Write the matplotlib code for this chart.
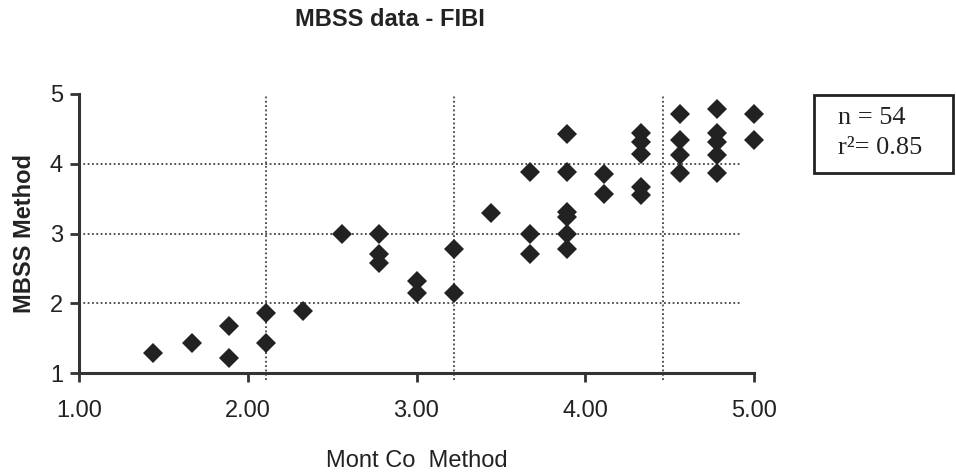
import numpy as np
import matplotlib
matplotlib.use('Agg')
import matplotlib.pyplot as plt

# Dados (Mont Co x MBSS, FIBI)
mont_co = [1.44, 1.67, 1.89, 1.89, 2.11, 2.11, 2.33, 2.56,
           2.78, 2.78, 2.78, 3.00, 3.00, 3.22, 3.22, 3.44,
           3.67, 3.67, 3.67,
           3.89, 3.89, 3.89, 3.89, 3.89, 3.89,
           4.11, 4.11,
           4.33, 4.33, 4.33, 4.33, 4.33,
           4.56, 4.56, 4.56, 4.56,
           4.78, 4.78, 4.78, 4.78, 4.78,
           5.00, 5.00]
mbss = [1.29, 1.43, 1.67, 1.21, 1.86, 1.43, 1.89, 3.00,
        3.00, 2.71, 2.57, 2.32, 2.14, 2.78, 2.14, 3.29,
        3.88, 3.00, 2.71,
        4.43, 3.88, 3.31, 3.24, 3.00, 2.78,
        3.86, 3.57,
        4.44, 4.31, 4.14, 3.67, 3.55,
        4.71, 4.34, 4.13, 3.87,
        4.78, 4.44, 4.31, 4.13, 3.87,
        4.71, 4.34]

xticks = [1.0, 2.0, 3.0, 4.0, 5.0]
yticks = [1, 2, 3, 4, 5]
grid_y = [2, 3, 4]
grid_x = [2.11, 3.22, 4.46]

n_amostras = 54
r2 = 0.85

plt.rcParams['font.family'] = ['Liberation Sans', 'DejaVu Sans']

fig = plt.figure(figsize=(9.56, 4.74), dpi=100)
ax = fig.add_axes([79 / 956, 101 / 474, 675 / 956, 279 / 474])

cor_grade = '#444444'
pont = (0, (1, 1.4))

# Grade pontilhada
for y in grid_y:
    ax.axhline(y, xmin=0, xmax=0.979, color=cor_grade, lw=1.3,
               linestyle=pont, zorder=1)
ax.vlines(grid_x, 0.9, 5, colors=cor_grade, lw=1.3, linestyles=pont,
          clip_on=False, zorder=1)

ax.plot(mont_co, mbss, 'D', color='#222222', markersize=10,
        markeredgewidth=0, zorder=3, clip_on=False)

ax.set_xlim(1, 5)
ax.set_ylim(1, 5)
ax.set_xticks(xticks)
ax.set_xticklabels(['{:.2f}'.format(v) for v in xticks])
ax.set_yticks(yticks)

for lado in ['top', 'right']:
    ax.spines[lado].set_visible(False)
for lado in ['left', 'bottom']:
    ax.spines[lado].set_linewidth(2.2)
    ax.spines[lado].set_color('#333333')

ax.tick_params(axis='x', length=6.5, width=2, color='#333333',
               labelsize=17, pad=13, labelcolor='#222222')
ax.tick_params(axis='y', length=6.5, width=2, color='#333333',
               labelsize=17, pad=5, labelcolor='#222222')

ax.set_xlabel('Mont Co  Method', fontsize=17, color='#222222', labelpad=20)
ax.set_ylabel('MBSS Method', fontsize=17, fontweight='bold',
              color='#222222', labelpad=10)

fig.text(390 / 956, 1 - 19 / 474, 'MBSS data - FIBI', fontsize=17,
         fontweight='bold', ha='center', va='center', color='#222222')

# Caixa com n e r^2
serif = ['Liberation Serif', 'DejaVu Serif']
fig.text(838 / 956, 1 - 124 / 474, 'n = {}'.format(n_amostras),
         fontsize=19, family=serif, ha='left', va='baseline', color='#222222')
fig.text(838 / 956, 1 - 154 / 474, 'r\u00b2= {:.2f}'.format(r2),
         fontsize=19, family=serif, ha='left', va='baseline', color='#222222')
caixa = plt.Rectangle((814 / 956, 1 - 173 / 474), 139 / 956, 78 / 474,
                      transform=fig.transFigure, fill=False,
                      edgecolor='#222222', lw=2)
fig.add_artist(caixa)

plt.savefig('out.png', dpi=100)
